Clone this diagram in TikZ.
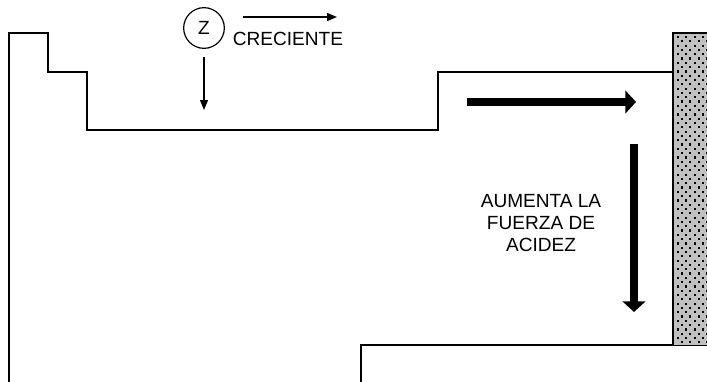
\documentclass[tikz,border=0pt]{standalone}
\usepackage{fontspec}
\setmainfont{Liberation Sans}
\usepackage{tikz}
\usetikzlibrary{arrows.meta, positioning}
\definecolor{rahmen}{HTML}{000000}
\definecolor{punktgrau}{HTML}{C0C0C0}

\begin{document}
\begin{tikzpicture}[
        x=0.75pt, y=-0.75pt,
        every node/.style={font=\fontsize{14.3}{16.2}\selectfont},
        kontur/.style={line width=1.3pt, rahmen},
        duenn/.style={line width=0.9pt, -{Triangle[length=7.5pt, width=6pt]}},
        dick/.style={line width=6.5pt, -{Triangle[length=8pt, width=17pt]}},
      ]
      \useasboundingbox (0,0) rectangle (707,382);

      % Umriss der Tabelle
      \draw[kontur] (9,382) -- (9,33) -- (48,33) -- (48,72) -- (87,72)
        -- (87,130) -- (438,130) -- (438,72) -- (673,72);
      \draw[kontur] (361,382) -- (361,345) -- (707,345);

      % Edelgase (gepunktet)
      \fill[punktgrau] (673,33) rectangle (707,345);
      \begin{scope}
        \clip (674,34) rectangle (707,344);
        \foreach \i in {0,...,72} {
          \pgfmathsetmacro{\yy}{37+4.3*\i}
          \pgfmathsetmacro{\xo}{678+4*mod(\i,2)}
          \foreach \j in {0,...,4}
            \fill (\xo+8.3*\j-1.1,\yy-1.1) rectangle ++(2.2,2.2);
        }
      \end{scope}
      \draw[kontur] (707.6,33) -- (673,33) -- (673,345);

      % Z wachsend
      \node[draw, circle, line width=0.9pt, minimum size=30.5pt, inner sep=0pt] (z) at (204,28) {Z};
      \coordinate (zfin) at (204,110);
      \draw[duenn] ([yshift=-6pt]z.south) -- (zfin);
      \node (crec) at (288,38.5) {CRECIENTE};
      \coordinate (cini) at (243,17);
      \coordinate (cfin) at (337,17);
      \draw[duenn] (cini) -- (cfin);

      % Saeurestaerke
      \coordinate (hini) at (467,102);
      \coordinate (hfin) at (636,102);
      \draw[dick] (hini) -- (hfin);
      \coordinate (vini) at (634,144);
      \coordinate (vfin) at (634,312);
      \draw[dick] (vini) -- (vfin);
      \node[align=center] (acid) at (541,223) {AUMENTA LA\\FUERZA DE\\ACIDEZ};
    \end{tikzpicture}
\end{document}
